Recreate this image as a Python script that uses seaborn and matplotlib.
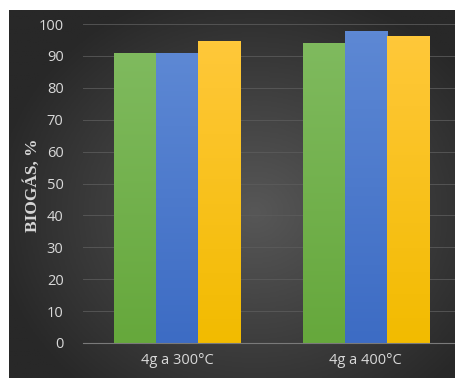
import numpy as np
import pandas as pd
import seaborn as sns
import matplotlib.pyplot as plt
from matplotlib.colors import LinearSegmentedColormap

# Data
categories = ['4g a 300°C', '4g a 400°C']
series = ['Serie 1', 'Serie 2', 'Serie 3']
green_vals = [90.8, 94.0]
blue_vals = [90.8, 97.8]
yellow_vals = [94.8, 96.3]

colors = ['#70AD47', '#4472C4', '#FFC000']
tops = ['#7fba5e', '#5d88d4', '#ffc83a']
bottoms = ['#66a83c', '#3d6cc4', '#f2bb00']

df = pd.DataFrame({
    'cat': categories * 3,
    'serie': [s for s in series for _ in categories],
    'val': green_vals + blue_vals + yellow_vals,
})

fig = plt.figure(figsize=(4.56, 3.78), dpi=100)
fig.patch.set_facecolor('white')

# Dark radial background
bg = fig.add_axes([9 / 456, 0, 1 - 9 / 456, 1 - 10 / 378])
yy, xx = np.mgrid[0:1:200j, 0:1:240j]
r = np.sqrt(((xx - 0.55) / 0.7) ** 2 + ((yy - 0.55) / 0.75) ** 2)
bgcmap = LinearSegmentedColormap.from_list('bg', ['#575757', '#404040', '#282828'])
bg.imshow(r, cmap=bgcmap, vmin=0, vmax=0.85, aspect='auto', extent=[0, 1, 0, 1])
bg.set_axis_off()

ax = fig.add_axes([83 / 456, 1 - 343 / 378, (460 - 83) / 456, (343 - 24) / 378])
ax.set_facecolor('none')

sns.barplot(data=df, x='cat', y='val', hue='serie', palette=colors,
            width=0.67, saturation=1, legend=False, ax=ax)

# Vertical gradient inside each bar
for i, cont in enumerate(ax.containers):
    cmap = LinearSegmentedColormap.from_list('g%d' % i, [bottoms[i], tops[i]])
    for p in cont.patches:
        x0, y0 = p.get_x(), p.get_y()
        w, h = p.get_width(), p.get_height()
        grad = np.linspace(0, 1, 100).reshape(-1, 1)
        im = ax.imshow(grad, cmap=cmap, origin='lower', aspect='auto',
                       extent=[x0, x0 + w, y0, y0 + h], zorder=2)
        im.set_clip_path(p)

ax.set_xlim(-0.5, 1.5)
ax.set_ylim(0, 100)
ax.set_yticks(range(0, 101, 10))
ax.grid(axis='y', color='#5c5c5c', linewidth=0.7, alpha=0.8)
ax.set_axisbelow(True)
for s in ['top', 'right', 'left']:
    ax.spines[s].set_visible(False)
ax.spines['bottom'].set_color('#7a7a7a')
ax.spines['bottom'].set_zorder(3)
ax.tick_params(axis='both', length=0, colors='#d9d9d9', labelsize=10.5)
ax.tick_params(axis='y', pad=14)
ax.tick_params(axis='x', pad=7)
for lab in ax.get_xticklabels() + ax.get_yticklabels():
    lab.set_family('Open Sans')

ax.set_xlabel('')
ax.set_ylabel('BIOGÁS, %', family='Liberation Serif', fontweight='bold',
              fontsize=12.5, color='#d6d6d6')
ax.yaxis.set_label_coords(-0.112, 0.495)

fig.savefig('out.png', dpi=100, facecolor='white')
